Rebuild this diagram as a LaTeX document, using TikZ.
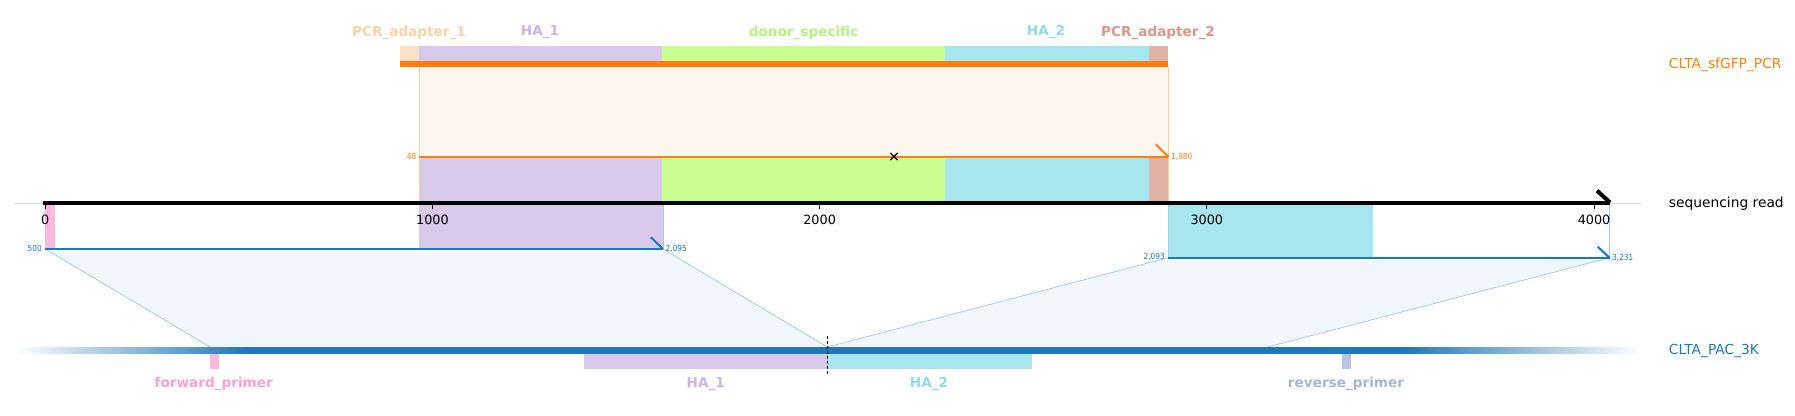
\documentclass[tikz,border=0pt]{standalone}
\usepackage{fontspec}
\usepackage{graphicx}
\usetikzlibrary{calc}
\setmainfont{DejaVu Sans}
\definecolor{torange}{HTML}{FF7F0E}
\definecolor{tblue}{HTML}{1F77B4}
\definecolor{paonebox}{HTML}{FAE0C4}
\definecolor{paonelab}{HTML}{F8D3A8}
\definecolor{haonebox}{HTML}{D8C8EA}
\definecolor{haonelab}{HTML}{C8B4E6}
\definecolor{donbox}{HTML}{C8FF90}
\definecolor{donlab}{HTML}{B4F57A}
\definecolor{hatwobox}{HTML}{A8E6EE}
\definecolor{hatwolab}{HTML}{8EDCEA}
\definecolor{patwobox}{HTML}{E0B2A6}
\definecolor{patwolab}{HTML}{D9968A}
\definecolor{fwdbox}{HTML}{FFB8DC}
\definecolor{fwdlab}{HTML}{FFA0D0}
\definecolor{revbox}{HTML}{B8C4E0}
\definecolor{revlab}{HTML}{A8B4D8}
\definecolor{pcrfill}{HTML}{FFF6F0}
\definecolor{pcredge}{HTML}{FFCC99}
\definecolor{alnfill}{HTML}{F0F6FA}
\definecolor{alnedge}{HTML}{A8CCE6}
\definecolor{axgrey}{HTML}{DDDDDD}
\tikzset{
  featlabel/.style={inner sep=0pt, font=\fontsize{13.6}{16}\selectfont\bfseries},
  sidelabel/.style={inner sep=0pt, anchor=west, font=\fontsize{13.8}{16}\selectfont},
  ticklabel/.style={inner sep=0pt, font=\fontsize{12.8}{15}\selectfont},
  numlabel/.style={inner sep=0pt, font=\fontsize{8.4}{10}\selectfont},
  halfarrow/.style={line width=2pt},
  alnline/.style={alnedge, line width=0.8pt},
}
\newcommand{\cnd}[1]{\scalebox{0.88}[1]{#1}}
\begin{document}
\begin{tikzpicture}[x=1pt,y=-1pt]
\useasboundingbox (0,0) rectangle (1795,415);

% grey baseline behind the axis
\draw[axgrey, line width=1pt] (14,203) -- (1641,203);

% ---------- top construct: CLTA_sfGFP_PCR ----------
\fill[paonebox] (400,46) rectangle (419,60.5);
\fill[haonebox] (419,46) rectangle (662,60.5);
\fill[donbox] (662,46) rectangle (945.2,60.5);
\fill[hatwobox] (945.2,46) rectangle (1149.3,60.5);
\fill[patwobox] (1149.3,46) rectangle (1168.3,60.5);
\fill[torange] (400,60.5) rectangle (1168.3,66.8);

\fill[pcrfill] (419,66.8) rectangle (1168.3,157);
\fill[haonebox] (419,157) rectangle (662,201);
\fill[donbox] (662,157) rectangle (945.2,201);
\fill[hatwobox] (945.2,157) rectangle (1149.3,201);
\fill[patwobox] (1149.3,157) rectangle (1168.3,201);
\draw[pcredge, line width=0.8pt] (419,66.8) -- (419,203);
\draw[pcredge, line width=0.8pt] (1168.3,66.8) -- (1168.3,203);

\coordinate (pcrL) at (419,156.7);
\coordinate (pcrR) at (1168.3,156.7);
\draw[torange, line width=1.6pt] (pcrL) -- (pcrR);
\draw[torange, halfarrow] (1155.7,144.3) -- (pcrR);
\node[numlabel, torange, anchor=east] (n48) at (416.5,156.8) {\cnd{48}};
\node[numlabel, torange, anchor=west] (n1980) at (1171,156.8) {\cnd{1,980}};
\coordinate (cut) at (894,156.5);
\draw[black, line width=1.3pt] ($(cut)+(-3.6,-3.6)$) -- ($(cut)+(3.6,3.6)$);
\draw[black, line width=1.3pt] ($(cut)+(-3.6,3.6)$) -- ($(cut)+(3.6,-3.6)$);

\node[featlabel, paonelab] (lpa1) at (409,32.5) {PCR\_adapter\_1};
\node[featlabel, haonelab] (lha1t) at (540,32.5) {HA\_1};
\node[featlabel, donlab] (ldon) at (803.6,32.5) {donor\_specific};
\node[featlabel, hatwolab] (lha2t) at (1046,32.5) {HA\_2};
\node[featlabel, patwolab] (lpa2) at (1158,32.5) {PCR\_adapter\_2};

% ---------- lower aligned blocks ----------
\fill[fwdbox] (45.2,204) rectangle (54.7,249);
\fill[haonebox] (419,204) rectangle (663,249);
\fill[hatwobox] (1168.3,204) rectangle (1373,257.7);

\coordinate (aL1) at (45.2,249);
\coordinate (aR1) at (663,249);
\coordinate (aL2) at (1168.3,257.7);
\coordinate (aR2) at (1609.5,257.7);
\coordinate (bL1) at (210.1,347);
\coordinate (bM) at (827.3,347);
\coordinate (bR2) at (1267.7,347);

\fill[alnfill] (aL1) -- (aR1) -- (bM) -- (bL1) -- cycle;
\fill[alnfill] (aL2) -- (aR2) -- (bR2) -- (bM) -- cycle;
\draw[alnline] (aL1) -- (bL1);
\draw[alnline] (aR1) -- (bM);
\draw[alnline] (aL2) -- (bM);
\draw[alnline] (aR2) -- (bR2);
\draw[alnline] (663,204) -- (aR1);
\draw[alnline] (1168.3,204) -- (aL2);
\draw[alnline] (1609.5,204) -- (aR2);

\draw[tblue, line width=1.8pt] (aL1) -- (aR1);
\draw[tblue, halfarrow] (650.9,237.3) -- (aR1);
\draw[tblue, line width=1.8pt] (aL2) -- (aR2);
\draw[tblue, halfarrow] (1597.6,246.7) -- (aR2);
\node[numlabel, tblue, anchor=east] (n500) at (42,248.8) {\cnd{500}};
\node[numlabel, tblue, anchor=west] (n2095) at (665.5,248.8) {\cnd{2,095}};
\node[numlabel, tblue, anchor=east] (n2093) at (1165,257.2) {\cnd{2,093}};
\node[numlabel, tblue, anchor=west] (n3231) at (1612,257.7) {\cnd{3,231}};

% ---------- axis (sequencing read) ----------
\coordinate (axL) at (42.9,202.5);
\coordinate (axR) at (1610,202.5);
\draw[black, line width=4pt] (axL) -- (axR);
\draw[black, line width=4pt] (1597,190.7) -- (axR);
\foreach \v/\t in {0/0,1000/1000,2000/2000,3000/3000,4000/4000}{
  \pgfmathsetmacro{\xx}{45.2+0.3872*\v}
  \draw[black, line width=1pt] (\xx,204) -- (\xx,208.5);
  \node[ticklabel] (tick\v) at (\xx,219.8) {\t};
}

% ---------- bottom construct: CLTA_PAC_3K ----------
\shade[left color=white, right color=tblue] (14,347) rectangle (250,353.7);
\fill[tblue] (249.5,347) rectangle (1401.5,353.7);
\shade[left color=tblue, right color=white] (1401,347) rectangle (1641,353.7);

\fill[fwdbox] (210,353.7) rectangle (218.5,368.7);
\fill[haonebox] (584,353.7) rectangle (827.3,368.7);
\fill[hatwobox] (827.3,353.7) rectangle (1031.7,368.7);
\fill[revbox] (1342,353.7) rectangle (1351,368.7);
\draw[black, line width=1.2pt, dash pattern=on 3pt off 2pt] (827.3,335.7) -- (827.3,374.3);

\node[featlabel, fwdlab] (lfwd) at (213.7,384) {forward\_primer};
\node[featlabel, haonelab] (lha1b) at (705.8,384) {HA\_1};
\node[featlabel, hatwolab] (lha2b) at (929,384) {HA\_2};
\node[featlabel, revlab] (lrev) at (1346,384) {reverse\_primer};

% ---------- track names ----------
\node[sidelabel, torange] (tpcr) at (1668.7,65) {CLTA\_sfGFP\_PCR};
\node[sidelabel, black] (tread) at (1668.7,203.5) {sequencing read};
\node[sidelabel, tblue] (tpac) at (1668.7,351.5) {CLTA\_PAC\_3K};
\end{tikzpicture}
\end{document}
